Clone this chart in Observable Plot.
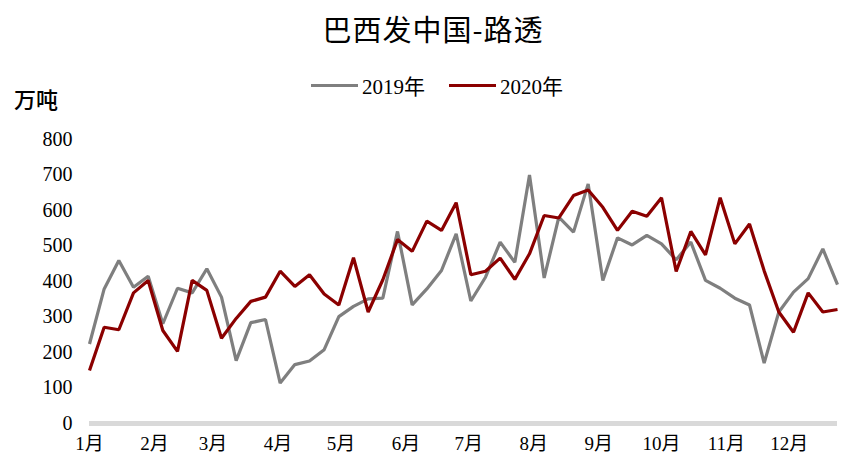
<!DOCTYPE html>
<html>
<head>
<meta charset="utf-8">
<script src="https://cdn.jsdelivr.net/npm/d3@7"></script>
<script src="https://cdn.jsdelivr.net/npm/@observablehq/plot@0.6"></script>
<style>
  body { margin: 0; background: #fff; width: 844px; height: 469px; overflow: hidden; position: relative; }
  #title { height: 62px; line-height: 56px; text-align: center; font-family: "Noto Sans CJK SC", sans-serif; font-size: 29px; font-weight: 400; letter-spacing: 1px; color: #000; padding-left: 22px; box-sizing: border-box; }
  #legend { position: absolute; top: 70px; left: 311px; display: flex; align-items: center; font-family: "Liberation Serif", "Noto Sans CJK SC", serif; font-size: 21px; color: #000; }
  .item { display: flex; align-items: center; margin-right: 24px; }
  .sw { display: inline-block; width: 47px; height: 3px; margin-right: 4px; }
  #unit { position: absolute; top: 82px; left: 14px; font-family: "Noto Sans CJK SC", sans-serif; font-size: 22px; font-weight: 500; color: #000; }
</style>
</head>
<body>
<div id="title">巴西发中国-路透</div>
<div id="legend"></div>
<div id="unit">万吨</div>
<div id="chart"></div>
<script>
const seriesNames = ["2019年", "2020年"];
const seriesColors = ["#7f7f7f", "#8b0000"];
const values2019 = [224, 379, 459, 384, 415, 281, 381, 368, 436, 356,
  177, 284, 293, 114, 166, 176, 208, 301, 330, 351,
  353, 541, 334, 379, 431, 534, 345, 412, 511, 454,
  700, 410, 581, 539, 675, 403, 523, 503, 530, 506,
  461, 511, 403, 381, 353, 334, 170, 314, 370, 408,
  492, 391];
const values2020 = [149, 271, 264, 368, 403, 262, 203, 403, 375, 240,
  296, 344, 356, 429, 386, 419, 365, 334, 467, 314,
  405, 518, 485, 570, 544, 622, 419, 429, 466, 406,
  478, 586, 579, 642, 658, 609, 544, 598, 584, 636,
  428, 541, 475, 636, 506, 562, 430, 314, 257, 368,
  314, 321];
const monthLabels = ["1月","2月","3月","4月","5月","6月","7月","8月","9月","10月","11月","12月"];
const monthStartDays = [0, 31, 59, 90, 120, 151, 181, 212, 243, 273, 304, 334];
const yTicks = [0, 100, 200, 300, 400, 500, 600, 700, 800];

const rows = [];
values2019.forEach((v, i) => rows.push({week: i, value: v, series: seriesNames[0]}));
values2020.forEach((v, i) => rows.push({week: i, value: v, series: seriesNames[1]}));

const monthTicks = monthStartDays.map(d => d / 7);

// legend
const legend = document.getElementById("legend");
seriesNames.forEach((n, i) => {
  const it = document.createElement("div");
  it.className = "item";
  it.innerHTML = `<span class="sw" style="background:${seriesColors[i]}"></span><span>${n}</span>`;
  legend.appendChild(it);
});

const chart = Plot.plot({
  width: 844,
  height: 407,
  marginTop: 77,
  marginBottom: 46,
  marginLeft: 89,
  marginRight: 7,
  style: { fontFamily: "'Liberation Serif', 'Noto Sans CJK SC', serif", fontSize: "19px", color: "#000", background: "#fff" },
  x: { domain: [0, values2019.length - 1], label: null },
  y: { domain: [0, 800], label: null },
  color: { domain: seriesNames, range: seriesColors },
  marks: [
    Plot.ruleY([0], { stroke: "#d9d9d9", strokeWidth: 5 }),
    Plot.line(rows, { x: "week", y: "value", stroke: "series", z: "series", strokeWidth: 3.2, strokeLinejoin: "miter", strokeLinecap: "butt" }),
    Plot.axisX({ ticks: monthTicks, tickFormat: (d, i) => monthLabels[i], tickSize: 0, tickPadding: 13, fontSize: "19px" }),
    Plot.axisY({ ticks: yTicks, tickSize: 0, tickPadding: 17, fontSize: "20px" })
  ]
});
document.getElementById("chart").appendChild(chart);
</script>
</body>
</html>
